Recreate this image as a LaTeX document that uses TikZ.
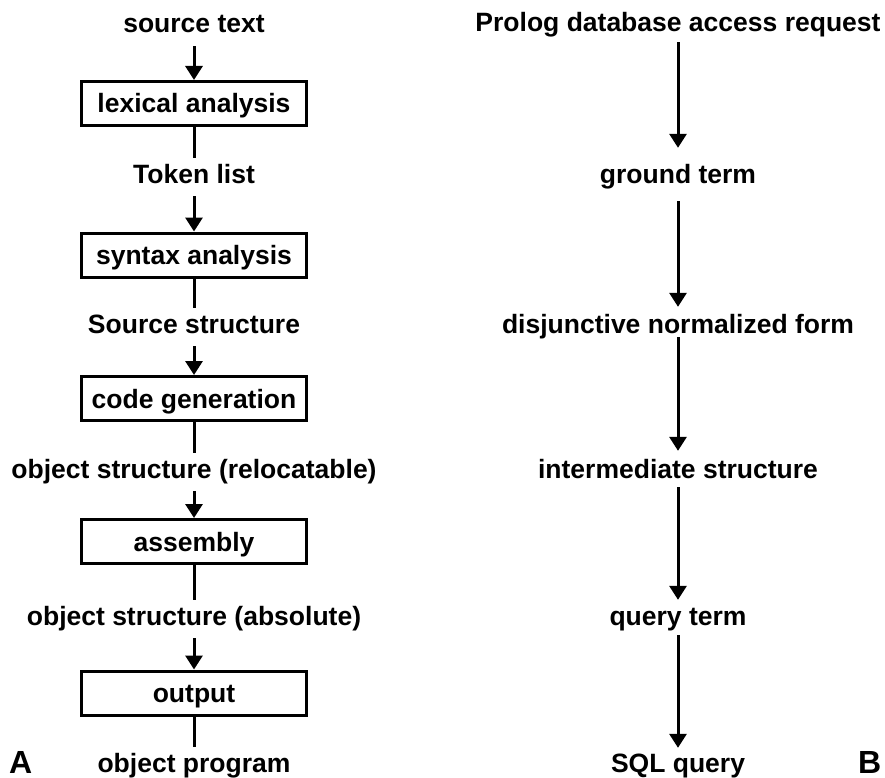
\documentclass[tikz,border=0pt]{standalone}
\usepackage{fontspec}
\setmainfont{Liberation Sans}
\usetikzlibrary{arrows.meta}
\begin{document}
\begin{tikzpicture}[x=1pt,y=-1pt,
  every node/.style={font=\fontsize{26.5}{31}\selectfont\bfseries, inner sep=0pt},
  stage/.style={draw, line width=3pt, minimum width=225pt, minimum height=44pt,
                text height=19pt, text depth=0pt},
  datum/.style={anchor=base, text height=25pt, text depth=13pt},
  flow/.style={line width=3pt, -{Triangle[length=14pt,width=17pt]}},
  link/.style={line width=3pt},
  panel/.style={anchor=base west, text height=23pt, text depth=0pt,
                font=\fontsize{32}{38}\selectfont\bfseries}]
\useasboundingbox (0,0) rectangle (885,778);

% compiler pipeline
\node[datum] (src) at (194,33)  {source text};
\node[stage] (lex) at (194,103.5) {lexical analysis};
\node[datum] (tok) at (194,183) {Token list};
\node[stage] (syn) at (194,255) {syntax analysis};
\node[datum] (sst) at (194,333) {Source structure};
\node[stage] (gen) at (194,398.5) {code generation};
\node[datum] (rel) at (194,478) {object structure (relocatable)};
\node[stage] (asm) at (194,541.5) {assembly};
\node[datum] (abs) at (194,625) {object structure (absolute)};
\node[stage] (out) at (194,693) {output};
\node[datum] (prg) at (194,772) {object program};

\draw[flow] (src.south) -- (lex.north);
\draw[link] (lex.south) -- (tok.north);
\draw[flow] (tok.south) -- (syn.north);
\draw[link] (syn.south) -- (sst.north);
\draw[flow] (sst.south) -- (gen.north);
\draw[link] (gen.south) -- (rel.north);
\draw[flow] (rel.south) -- (asm.north);
\draw[link] (asm.south) -- (abs.north);
\draw[flow] (abs.south) -- (out.north);
\draw[link] (out.south) -- (prg.north);

% database query translation
\node[datum, text depth=10pt] (req) at (678,32) {Prolog database access request};
\node[datum, text height=35pt, text depth=18pt] (grd) at (678,183) {ground term};
\node[datum, text height=26pt, text depth=4pt] (dnf) at (678,333) {disjunctive normalized form};
\node[datum, text height=27pt, text depth=9pt] (ist) at (678,478) {intermediate structure};
\node[datum, text height=25pt, text depth=10pt] (qtm) at (678,625) {query term};
\node[datum, text height=24pt] (sql) at (678,772) {SQL query};

\draw[flow] (req.south) -- (grd.north);
\draw[flow] (grd.south) -- (dnf.north);
\draw[flow] (dnf.south) -- (ist.north);
\draw[flow] (ist.south) -- (qtm.north);
\draw[flow] (qtm.south) -- (sql.north);

% panel letters
\node[panel] (pa) at (9,773) {A};
\node[panel] (pb) at (858,773) {B};
\end{tikzpicture}
\end{document}
